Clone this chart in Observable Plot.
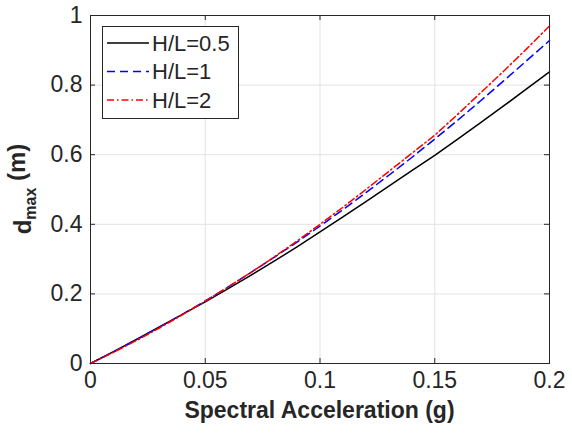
<!DOCTYPE html>
<html><head><meta charset="utf-8">
<script src="https://cdn.jsdelivr.net/npm/d3@7"></script>
<script src="https://cdn.jsdelivr.net/npm/@observablehq/plot@0.6"></script>
<style>
body{margin:0;background:#fff;}
#chart svg{display:block;}
</style></head><body><div id="chart"></div>
<script>
// Spectral acceleration (g)
const sa = [0,0.01,0.02,0.03,0.04,0.05,0.06,0.07,0.08,0.09,0.10,0.11,0.12,0.13,0.14,0.15,0.16,0.17,0.18,0.19,0.20];
// d_max (m) for each H/L
const dHL05 = [0,0.034,0.069,0.105,0.141,0.177,0.215,0.254,0.294,0.335,0.378,0.421,0.465,0.510,0.554,0.598,0.645,0.692,0.740,0.789,0.838];
const dHL1  = [0,0.033,0.068,0.104,0.141,0.180,0.220,0.262,0.305,0.349,0.395,0.442,0.491,0.541,0.592,0.645,0.699,0.755,0.812,0.870,0.928];
const dHL2  = [0,0.032,0.066,0.102,0.140,0.179,0.220,0.262,0.306,0.352,0.400,0.449,0.500,0.552,0.604,0.656,0.716,0.778,0.840,0.904,0.970];
const seriesNames = ["H/L=0.5","H/L=1","H/L=2"];
const seriesValues = [dHL05, dHL1, dHL2];
const seriesColors = ["#000000","#0000ff","#ff0000"];
const seriesDash = [null,"8,5","7,3,1.5,3"];
const xTicks = [0,0.05,0.1,0.15,0.2];
const yTicks = [0,0.2,0.4,0.6,0.8,1];
const xLabel = "Spectral Acceleration (g)";

const W = 572, H = 434;
const M = {top:15, right:23, bottom:71, left:90};
const iw = W - M.left - M.right, ih = H - M.top - M.bottom;
const axisColor = "#262626";
const font = "'Liberation Sans', Arial, Helvetica, sans-serif";

const rows = [];
seriesNames.forEach((name, i) => sa.forEach((x, j) => rows.push({x, y: seriesValues[i][j], s: name})));

const lines = seriesNames.map((name, i) => Plot.line(rows.filter(r => r.s === name), {
  x: "x", y: "y", stroke: seriesColors[i], strokeWidth: 1.5,
  strokeDasharray: seriesDash[i] || undefined
}));

const chart = Plot.plot({
  width: W, height: H,
  marginTop: M.top, marginRight: M.right, marginBottom: M.bottom, marginLeft: M.left,
  style: {fontFamily: font, fontSize: "23px", color: axisColor, background: "#fff"},
  x: {domain: [0, 0.2]},
  y: {domain: [0, 1]},
  marks: [
    Plot.gridX(xTicks, {stroke: "#e3e3e3", strokeOpacity: 1, strokeWidth: 1}),
    Plot.gridY(yTicks, {stroke: "#e3e3e3", strokeOpacity: 1, strokeWidth: 1}),
    ...lines,
    Plot.tickX(xTicks, {x: d => d, stroke: axisColor, insetTop: ih - 5}),
    Plot.tickX(xTicks, {x: d => d, stroke: axisColor, insetBottom: ih - 5}),
    Plot.tickY(yTicks, {y: d => d, stroke: axisColor, insetRight: iw - 5}),
    Plot.tickY(yTicks, {y: d => d, stroke: axisColor, insetLeft: iw - 5}),
    Plot.frame({stroke: axisColor, strokeWidth: 1}),
    Plot.axisX(xTicks, {tickSize: 0, tickPadding: 8, tickFormat: d => String(d), label: null, fill: axisColor}),
    Plot.axisY(yTicks, {tickSize: 0, tickPadding: 8, tickFormat: d => String(d), label: null, fill: axisColor})
  ]
});
document.getElementById("chart").appendChild(chart);

const svg = d3.select(chart);

// x label
svg.append("text")
  .attr("x", M.left + iw / 2).attr("y", 418)
  .attr("text-anchor", "middle").attr("fill", axisColor)
  .style("font-family", font).style("font-weight", "bold").style("font-size", "23px")
  .text(xLabel);

// y label with subscript
const yl = svg.append("text")
  .attr("transform", `translate(31,${M.top + ih/2}) rotate(-90)`)
  .attr("text-anchor", "middle")
  .attr("fill", axisColor)
  .style("font-family", font).style("font-weight", "bold").style("font-size", "24px");
yl.append("tspan").text("d");
yl.append("tspan").attr("dy", "0.3em").style("font-size", "16px").text("max");
yl.append("tspan").attr("dy", "-0.45em").text("\u00a0(m)");

// legend
const lg = svg.append("g");
lg.append("rect").attr("x", 102.5).attr("y", 26.5).attr("width", 136).attr("height", 92)
  .attr("fill", "#fff").attr("stroke", axisColor).attr("stroke-width", 1);
seriesNames.forEach((name, i) => {
  const cy = 43 + i * 28.5;
  lg.append("line").attr("x1", 107).attr("x2", 149).attr("y1", cy).attr("y2", cy)
    .attr("stroke", seriesColors[i]).attr("stroke-width", 1.5)
    .attr("stroke-dasharray", seriesDash[i]);
  lg.append("text").attr("x", 152).attr("y", cy).attr("dy", "0.36em")
    .attr("text-anchor", "start")
    .attr("fill", axisColor)
    .style("font-family", font).style("font-size", "22px").text(name);
});
</script></body></html>
